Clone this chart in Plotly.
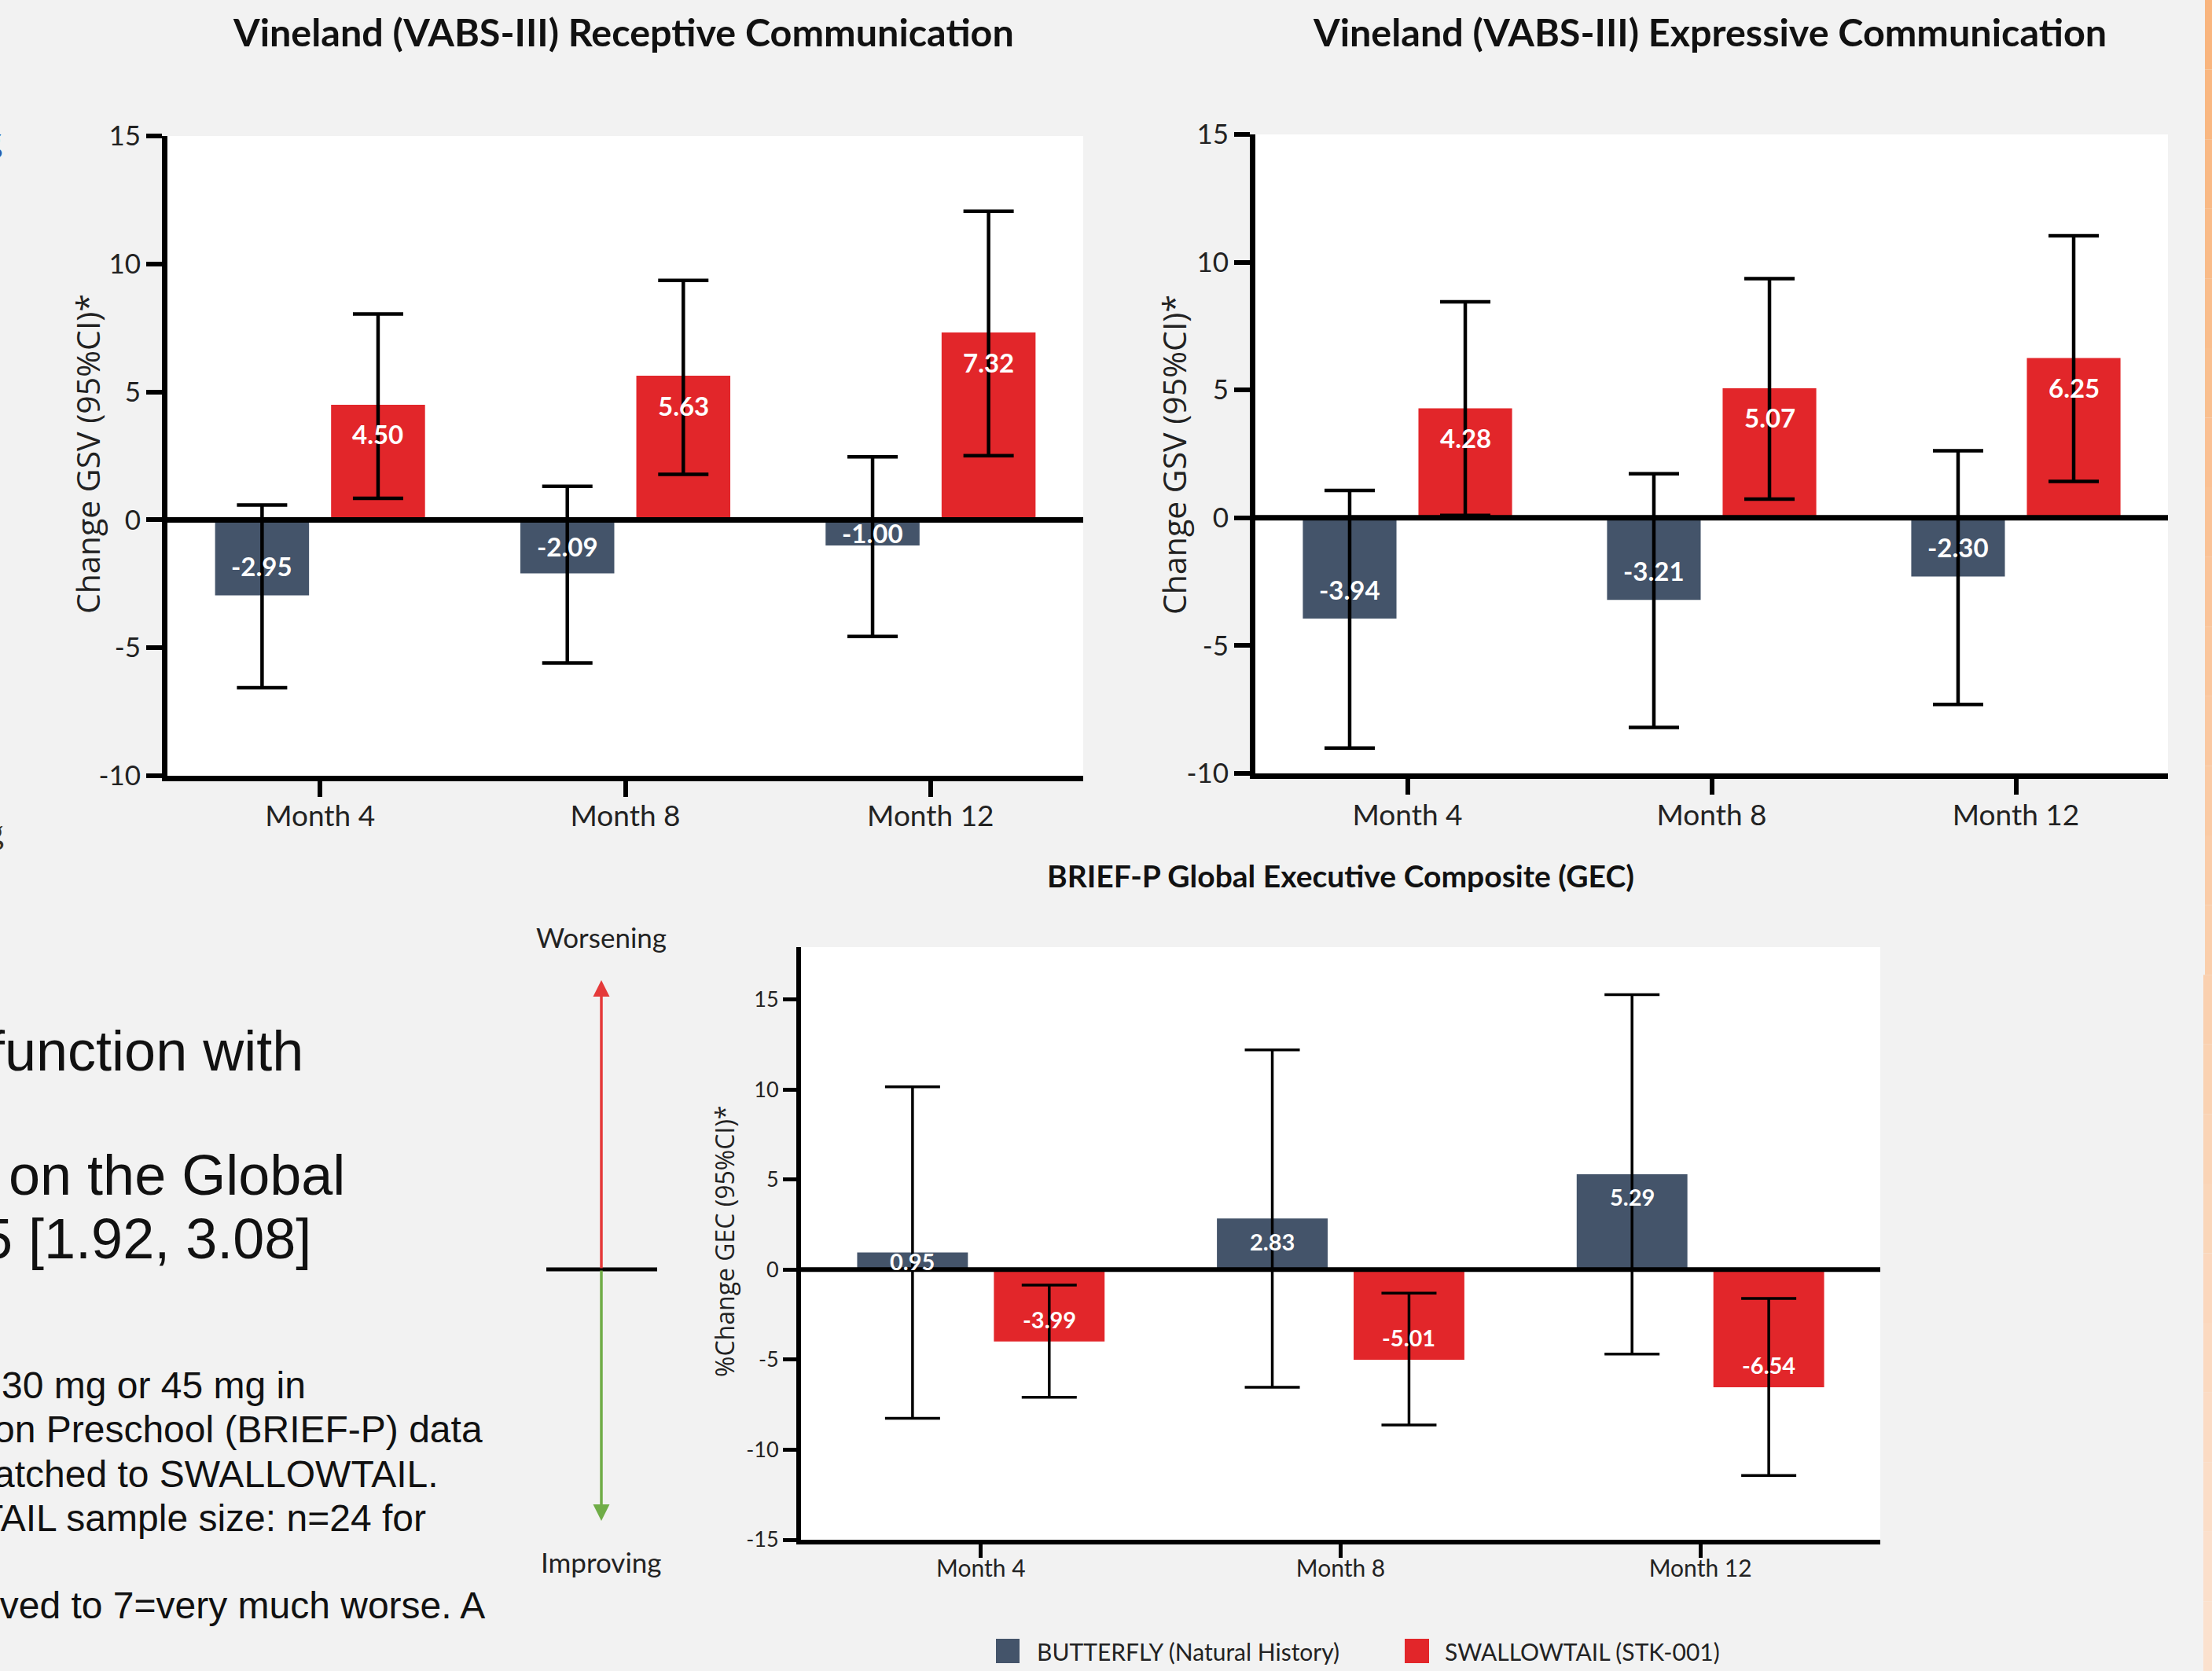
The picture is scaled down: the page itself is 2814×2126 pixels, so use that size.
import plotly.graph_objects as go

# ---------------- data ----------------
months = ["Month 4", "Month 8", "Month 12"]
series_names = ["BUTTERFLY (Natural History)", "SWALLOWTAIL (STK-001)"]

# Vineland Receptive Communication (change GSV, 95% CI)
rec_butterfly = [-2.95, -2.09, -1.00]
rec_butterfly_lo = [-6.56, -5.59, -4.56]
rec_butterfly_hi = [0.58, 1.31, 2.46]
rec_swallow = [4.50, 5.63, 7.32]
rec_swallow_lo = [0.84, 1.78, 2.51]
rec_swallow_hi = [8.04, 9.36, 12.06]

# Vineland Expressive Communication (change GSV, 95% CI)
exp_butterfly = [-3.94, -3.21, -2.30]
exp_butterfly_lo = [-9.01, -8.20, -7.30]
exp_butterfly_hi = [1.07, 1.72, 2.62]
exp_swallow = [4.28, 5.07, 6.25]
exp_swallow_lo = [0.09, 0.73, 1.42]
exp_swallow_hi = [8.45, 9.36, 11.03]

# BRIEF-P GEC (% change, 95% CI)
gec_butterfly = [0.95, 2.83, 5.29]
gec_butterfly_lo = [-8.26, -6.54, -4.69]
gec_butterfly_hi = [10.14, 12.20, 15.26]
gec_swallow = [-3.99, -5.01, -6.54]
gec_swallow_lo = [-7.09, -8.63, -11.43]
gec_swallow_hi = [-0.86, -1.31, -1.60]

titles = ["Vineland (VABS-III) Receptive Communication",
          "Vineland (VABS-III) Expressive Communication",
          "BRIEF-P Global Executive Composite (GEC)"]
ytitles = ["Change GSV (95%CI)*", "Change GSV (95%CI)*", "%Change GEC (95%CI)*"]
yticks_top = [-10, -5, 0, 5, 10, 15]
yticks_gec = [-15, -10, -5, 0, 5, 10, 15]

side_lines_big = ["function with", "on the Global", "5 [1.92, 3.08]"]
side_lines_small = ["30 mg or 45 mg in", "on Preschool (BRIEF-P) data",
                    "atched to SWALLOWTAIL.", "TAIL sample size: n=24 for",
                    "oved to 7=very much worse. A"]

# ---------------- styling ----------------
W, H = 2814, 2126
NAVY = "#44546a"
RED = "#e2262a"
BG = "#f2f2f2"
TXT = "#222222"
CAL = "Lato"
BARGAP = 0.24
BARGROUPGAP = 0.19


def fx(p):
    return p / W


def fy(p):
    return 1 - p / H


charts = [
    dict(xa="x", ya="y", xbox=(213, 1378), ybox=(173, 987), rng=[-10, 15], ticks=yticks_top,
         data=[(rec_butterfly, rec_butterfly_lo, rec_butterfly_hi), (rec_swallow, rec_swallow_lo, rec_swallow_hi)],
         lw=7, tl=20, tw=6, tfs=35, xfs=37, lab=33, cap=32, eth=4.5, k=1.15, xso=-7,
         title_pos=(793, 40), ytitle_pos=(111, 578), ytfs=41, tsz=48.5),
    dict(xa="x2", ya="y2", xbox=(1597, 2758), ybox=(171, 984), rng=[-10, 15], ticks=yticks_top,
         data=[(exp_butterfly, exp_butterfly_lo, exp_butterfly_hi), (exp_swallow, exp_swallow_lo, exp_swallow_hi)],
         lw=7, tl=20, tw=6, tfs=35, xfs=37, lab=33, cap=32, eth=4.5, k=1.15, xso=-5,
         title_pos=(2175, 40), ytitle_pos=(1493, 578), ytfs=41, tsz=48.5),
    dict(xa="x3", ya="y3", xbox=(1019, 2392), ybox=(1205, 1959), rng=[-15, 17.9], ticks=yticks_gec,
         data=[(gec_butterfly, gec_butterfly_lo, gec_butterfly_hi), (gec_swallow, gec_swallow_lo, gec_swallow_hi)],
         lw=6, tl=17, tw=5, tfs=27, xfs=30, lab=29, cap=35, eth=3.5, k=1.25, xso=-12,
         title_pos=(1705, 1114), ytitle_pos=(921, 1579), ytfs=32, tsz=39),
]

fig = go.Figure()
layout = dict(width=W, height=H, autosize=False, margin=dict(l=0, r=0, t=0, b=0, pad=0, autoexpand=False),
              paper_bgcolor=BG, plot_bgcolor="white", barmode="group",
              bargap=BARGAP, bargroupgap=BARGROUPGAP, showlegend=False)
annotations = []
shapes = []
colors = [NAVY, RED]
off = (1 - BARGAP) / 4

for ci, c in enumerate(charts):
    for si, (vals, lo, hi) in enumerate(c["data"]):
        fig.add_trace(go.Bar(
            x=months, y=vals, name=series_names[si], xaxis=c["xa"], yaxis=c["ya"],
            marker=dict(color=colors[si], line=dict(width=0)),
            error_y=dict(type="data", symmetric=False,
                         array=[h - v for h, v in zip(hi, vals)],
                         arrayminus=[v - l for v, l in zip(vals, lo)],
                         color="black", thickness=c["eth"], width=c["cap"]),
            hoverinfo="skip"))
        # value labels inside bars
        for j, v in enumerate(vals):
            s = 1 if v >= 0 else -1
            ypos = v - s * min(c["k"], 0.5 * abs(v))
            annotations.append(dict(
                x=j + (-off if si == 0 else off), y=ypos, xref=c["xa"], yref=c["ya"],
                text=f"<b>{v:.2f}</b>", showarrow=False, xanchor="center", yanchor="middle",
                font=dict(family=CAL, size=c["lab"], color="white")))
    axn = c["xa"].replace("x", "xaxis")
    ayn = c["ya"].replace("y", "yaxis")
    layout[axn] = dict(
        domain=[fx(c["xbox"][0]), fx(c["xbox"][1])], anchor=c["ya"], type="category",
        range=[-0.5, 2.5], showline=True, linecolor="black", linewidth=c["lw"],
        ticks="outside", ticklen=c["tl"], tickwidth=c["tw"], tickcolor="black",
        ticklabelstandoff=c["xso"],
        tickfont=dict(family=CAL, size=c["xfs"], color=TXT), showgrid=False, zeroline=False,
        fixedrange=True, automargin=False)
    layout[ayn] = dict(
        domain=[fy(c["ybox"][1]), fy(c["ybox"][0])], anchor=c["xa"], range=c["rng"],
        tickvals=c["ticks"], ticktext=[str(t) for t in c["ticks"]],
        showline=True, linecolor="black", linewidth=c["lw"],
        ticks="outside", ticklen=c["tl"], tickwidth=c["tw"], tickcolor="black",
        tickfont=dict(family=CAL, size=c["tfs"], color=TXT), showgrid=False, zeroline=False,
        fixedrange=True, automargin=False)
    # zero line drawn above bars
    shapes.append(dict(type="line", xref=c["xa"] + " domain", yref=c["ya"], x0=0, x1=1, y0=0, y1=0,
                       line=dict(color="black", width=c["lw"]), layer="above"))
    annotations.append(dict(x=fx(c["title_pos"][0]), y=fy(c["title_pos"][1]), xref="paper", yref="paper",
                            text=f"<b>{titles[ci]}</b>", showarrow=False, xanchor="center", yanchor="middle",
                            font=dict(family=CAL, size=c["tsz"], color="#111111")))
    annotations.append(dict(x=fx(c["ytitle_pos"][0]), y=fy(c["ytitle_pos"][1]), xref="paper", yref="paper",
                            text=ytitles[ci], textangle=-90, showarrow=False, xanchor="center",
                            yanchor="middle", font=dict(family="Open Sans", size=c["ytfs"], color=TXT)))

# legend (drawn manually for large swatches)
leg = [(1267, 1297, 1317), (1787, 1818, 1836)]
for si, (x0, x1, tx) in enumerate(leg):
    shapes.append(dict(type="rect", xref="paper", yref="paper", x0=fx(x0), x1=fx(x1),
                       y0=fy(2116), y1=fy(2085), fillcolor=colors[si], line=dict(width=0)))
    annotations.append(dict(x=fx(tx), y=fy(2101), xref="paper", yref="paper", text=series_names[si],
                            showarrow=False, xanchor="left", yanchor="middle",
                            font=dict(family=CAL, size=30, color=TXT)))

# side panel text (partially cut off at left edge, as in the source slide)
big_pos = [(388, 1337), (441, 1495), (398, 1576)]
for t, (xr, yc) in zip(side_lines_big, big_pos):
    annotations.append(dict(x=fx(xr), y=fy(yc), xref="paper", yref="paper", text=t, showarrow=False,
                            xanchor="right", yanchor="middle",
                            font=dict(family="Liberation Sans", size=72, color="#111111")))
small_pos = [(391, 1762), (616, 1818), (560, 1875), (544, 1931), (619, 2042)]
for t, (xr, yc) in zip(side_lines_small, small_pos):
    annotations.append(dict(x=fx(xr), y=fy(yc), xref="paper", yref="paper", text=t, showarrow=False,
                            xanchor="right", yanchor="middle",
                            font=dict(family="Liberation Sans", size=48, color="#111111")))
annotations.append(dict(x=fx(5), y=fy(178), xref="paper", yref="paper", text="g", showarrow=False,
                        xanchor="right", yanchor="middle", font=dict(family="Liberation Serif", size=44, color="#2a5caa")))
annotations.append(dict(x=fx(7), y=fy(1058), xref="paper", yref="paper", text="g", showarrow=False,
                        xanchor="right", yanchor="middle", font=dict(family="Liberation Serif", size=44, color="#3a3020")))

# worsening / improving indicator
annotations.append(dict(x=fx(765), y=fy(1192), xref="paper", yref="paper", text="Worsening", showarrow=False,
                        xanchor="center", yanchor="middle", font=dict(family=CAL, size=35, color=TXT)))
annotations.append(dict(x=fx(765), y=fy(1987), xref="paper", yref="paper", text="Improving", showarrow=False,
                        xanchor="center", yanchor="middle", font=dict(family=CAL, size=35, color=TXT)))
annotations.append(dict(x=fx(765), y=fy(1247), xref="paper", yref="paper", text="", showarrow=True,
                        ax=0, ay=368, arrowhead=2, arrowsize=1.2, arrowwidth=3.5, arrowcolor="#e53a3a"))
annotations.append(dict(x=fx(765), y=fy(1935), xref="paper", yref="paper", text="", showarrow=True,
                        ax=0, ay=-320, arrowhead=2, arrowsize=1.2, arrowwidth=3.5, arrowcolor="#70ad47"))
shapes.append(dict(type="line", xref="paper", yref="paper", x0=fx(695), x1=fx(836), y0=fy(1615), y1=fy(1615),
                   line=dict(color="black", width=5)))

# decorative orange strip at right edge
nseg = 24
top_c = (249, 180, 124)
bot_c = (251, 226, 208)
for i in range(nseg):
    t = (i + 0.5) / nseg
    col = tuple(int(round(a + (b - a) * t)) for a, b in zip(top_c, bot_c))
    y0p = H * i / nseg
    y1p = H * (i + 1) / nseg
    x0p = 2805 if y0p < 1202 else 2803
    shapes.append(dict(type="rect", xref="paper", yref="paper", x0=fx(x0p), x1=1, y0=fy(y1p), y1=fy(y0p),
                       fillcolor="rgb(%d,%d,%d)" % col, line=dict(width=0), layer="below"))

layout["annotations"] = annotations
layout["shapes"] = shapes
fig.update_layout(**layout)

page_fix = ("document.documentElement.style.margin='0';document.body.style.margin='0';"
            "document.body.style.padding='0';document.body.style.overflow='hidden';"
            "document.body.style.background='%s';document.documentElement.style.background='%s';" % (BG, BG))
fig.write_html("out.html", post_script=page_fix, config={"displayModeBar": False})
